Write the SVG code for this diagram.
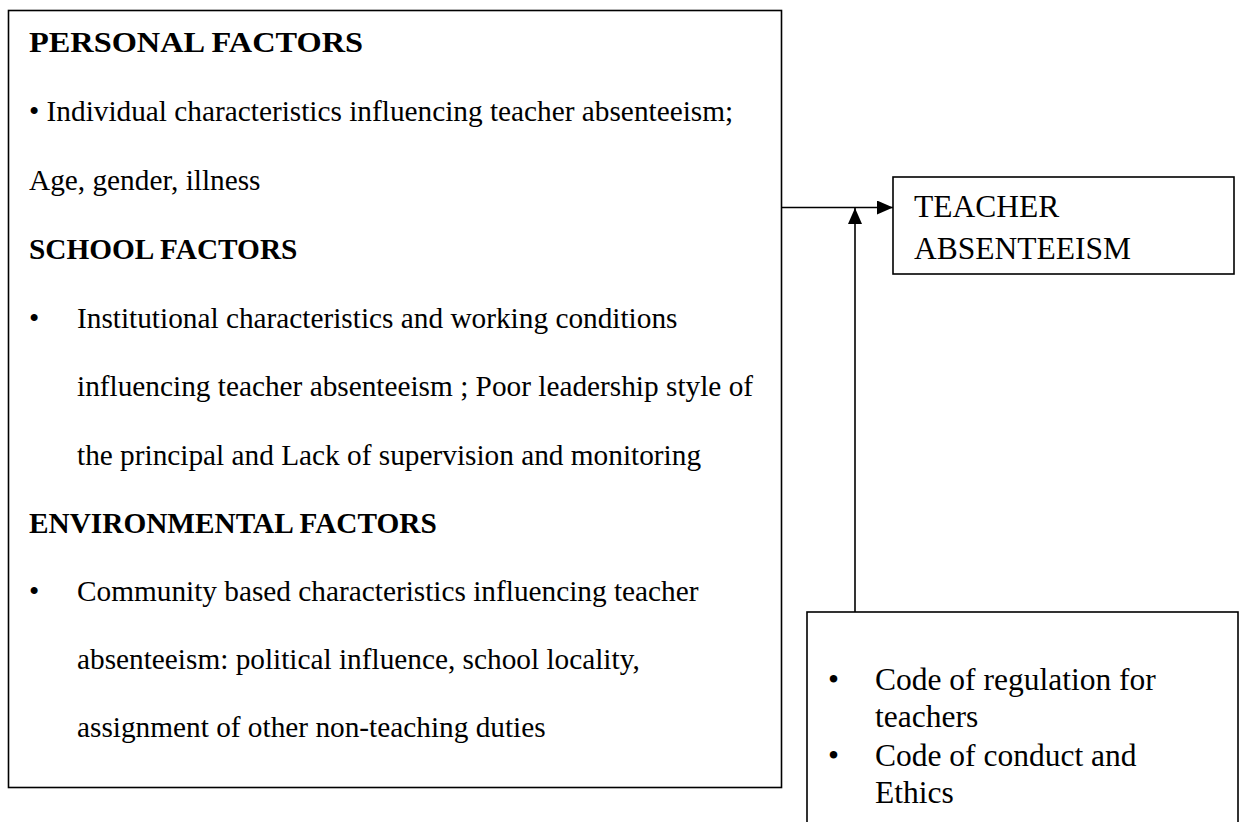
<svg xmlns="http://www.w3.org/2000/svg" width="1254" height="822" viewBox="0 0 1254 822">
  <style>
    .box { fill: #ffffff; stroke: #000000; stroke-width: 1.6; }
    .txt { font-family: "Liberation Serif", "Times New Roman", serif; font-size: 29.3px; fill: #000000; }
    .hd { font-weight: bold; }
    .big { font-size: 31.5px; }
    .conn { stroke: #000000; stroke-width: 1.6; fill: none; }
  </style>
  <defs>
    <marker id="arrow" markerUnits="userSpaceOnUse" markerWidth="16" markerHeight="14" refX="16" refY="7" orient="auto">
      <path d="M0,0 L16,7 L0,14 Z" fill="#000000"/>
    </marker>
  </defs>
  <rect width="1254" height="822" fill="#ffffff"/>

  <!-- factor groups -->
  <g id="factors">
    <rect class="box" x="8.5" y="10.5" width="773" height="777"/>
    <text class="txt hd" x="29" y="52" textLength="334" lengthAdjust="spacingAndGlyphs">PERSONAL FACTORS</text>
    <text class="txt" x="29" y="121">• Individual characteristics influencing teacher absenteeism;</text>
    <text class="txt" x="29" y="190">Age, gender, illness</text>
    <text class="txt hd" x="29" y="259">SCHOOL FACTORS</text>
    <text class="txt" x="29" y="328">•</text>
    <text class="txt" x="77" y="328">Institutional characteristics and working conditions</text>
    <text class="txt" x="77" y="396">influencing teacher absenteeism ; Poor leadership style of</text>
    <text class="txt" x="77" y="465">the principal and Lack of supervision and monitoring</text>
    <text class="txt hd" x="29" y="533">ENVIRONMENTAL FACTORS</text>
    <text class="txt" x="29" y="601">•</text>
    <text class="txt" x="77" y="601">Community based characteristics influencing teacher</text>
    <text class="txt" x="77" y="669">absenteeism: political influence, school locality,</text>
    <text class="txt" x="77" y="737">assignment of other non-teaching duties</text>
  </g>

  <!-- outcome -->
  <g id="teacher-absenteeism">
    <rect class="box" x="893" y="177" width="341" height="97"/>
    <text class="txt big" x="914" y="217">TEACHER</text>
    <text class="txt big" x="914" y="259">ABSENTEEISM</text>
  </g>

  <!-- regulations -->
  <g id="regulations">
    <rect class="box" x="807" y="612" width="431" height="240"/>
    <text class="txt big" x="828" y="690">•</text>
    <text class="txt big" x="875" y="690">Code of regulation for</text>
    <text class="txt big" x="875" y="727">teachers</text>
    <text class="txt big" x="828" y="766">•</text>
    <text class="txt big" x="875" y="766">Code of conduct and</text>
    <text class="txt big" x="875" y="803">Ethics</text>
  </g>

  <!-- connectors -->
  <g id="connectors">
    <line class="conn" x1="782" y1="207.5" x2="893" y2="207.5" marker-end="url(#arrow)"/>
    <line class="conn" x1="855" y1="612" x2="855" y2="208" marker-end="url(#arrow)"/>
  </g>
</svg>
